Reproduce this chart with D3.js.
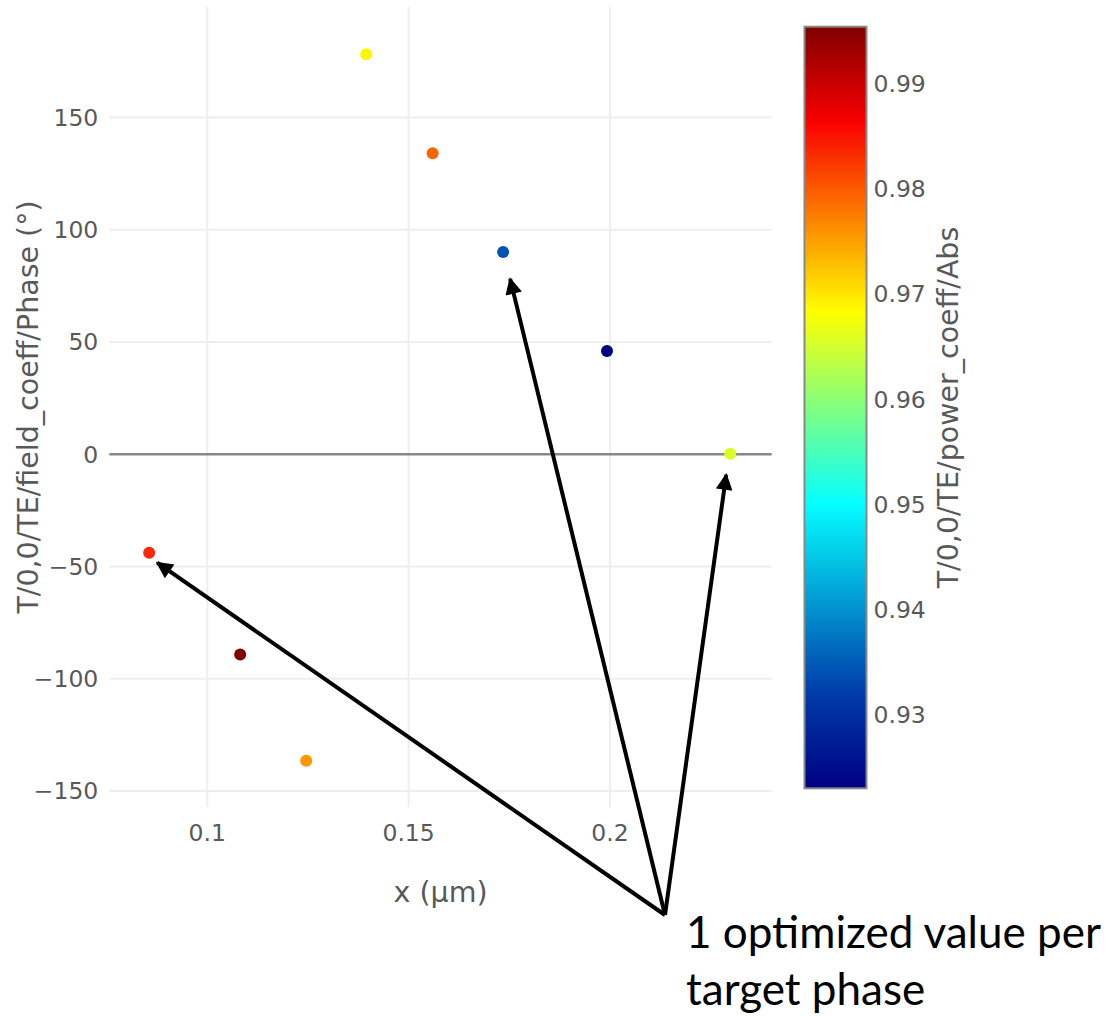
<!DOCTYPE html>
<html><head><meta charset="utf-8">
<script src="https://cdn.jsdelivr.net/npm/d3@7"></script>
<style>body{margin:0;background:#fff}svg{display:block}</style>
</head><body>
<svg id="chart" width="1111" height="1016"></svg>
<script>
// ---- data ----
const xValues = [0.0857, 0.1083, 0.1247, 0.1396, 0.1561, 0.1736, 0.1994, 0.2300];
const phaseValues = [-44.1, -89.5, -136.8, 177.9, 133.8, 89.9, 45.7, 0.0];
const absValues = [0.9835, 0.9954, 0.9757, 0.9688, 0.9792, 0.9340, 0.9229, 0.9657];
const xTicks = [0.1, 0.15, 0.2];
const yTicks = [-150, -100, -50, 0, 50, 100, 150];
const cTicks = [0.93, 0.94, 0.95, 0.96, 0.97, 0.98, 0.99];
const jetStops = [0, 0.125, 0.375, 0.625, 0.875, 1];
const jetColors = ["rgb(0,0,131)", "rgb(0,60,170)", "rgb(5,255,255)", "rgb(255,255,0)", "rgb(250,0,0)", "rgb(128,0,0)"];
const annotationText = ["1 optimized value per", "target phase"];
const arrowTargetIdx = [0, 5, 7];

const svg = d3.select("#chart");
const L = 109.3, R = 771.7, T = 7, B = 807;
const x = d3.scaleLinear().domain([0.0758, 0.2403]).range([L, R]);
const y = d3.scaleLinear().domain([-157.4, 199.0]).range([B, T]);
const cMin = d3.min(absValues), cMax = d3.max(absValues);
const cNorm = d3.scaleLinear().domain([cMin, cMax]).range([0, 1]);
const jet = d3.scaleLinear().domain(jetStops).range(jetColors).interpolate(d3.interpolateRgb).clamp(true);
const color = v => jet(cNorm(v));

const tickColor = "#595959";
const font = "'DejaVu Sans', Verdana, sans-serif";
const tickSize = 23.5, titleSize = 28.5;

// gridlines + axes
const g = svg.append("g");
g.append("g").attr("transform", `translate(0,${B})`)
  .call(d3.axisBottom(x).tickValues(xTicks).tickSize(-(B - T)).tickFormat(d3.format("")))
  .call(s => s.select(".domain").remove())
  .call(s => s.selectAll("line").attr("stroke", "#eee").attr("stroke-width", 2))
  .call(s => s.selectAll("text").attr("fill", tickColor).attr("font-size", tickSize).attr("font-family", font).attr("y", 26).attr("dy", "0.36em"));
g.append("g").attr("transform", `translate(${L},0)`)
  .call(d3.axisLeft(y).tickValues(yTicks).tickSize(-(R - L)).tickFormat(d => d < 0 ? "\u2212" + Math.abs(d) : d))
  .call(s => s.select(".domain").remove())
  .call(s => s.selectAll("line").attr("stroke", d => d === 0 ? "#888" : "#eee").attr("stroke-width", d => d === 0 ? 2.5 : 2))
  .call(s => s.selectAll("text").attr("fill", tickColor).attr("font-size", tickSize).attr("font-family", font).attr("x", -11).attr("dy", "0.36em"));

// axis titles
svg.append("text").attr("x", (L + R) / 2).attr("y", 902).attr("text-anchor", "middle")
  .attr("fill", tickColor).attr("font-size", titleSize).attr("font-family", font).text("x (\u03bcm)");
svg.append("text").attr("transform", `translate(38,${(T + B) / 2}) rotate(-90)`).attr("text-anchor", "middle")
  .attr("fill", tickColor).attr("font-size", titleSize).attr("font-family", font).text("T/0,0/TE/field_coeff/Phase (\u00b0)");

// points
svg.append("g").selectAll("circle").data(xValues.map((d, i) => i)).join("circle")
  .attr("cx", i => x(xValues[i])).attr("cy", i => y(phaseValues[i])).attr("r", 6)
  .attr("fill", i => color(absValues[i]));

// colorbar
const cbL = 804.5, cbW = 62, cbT = 26.7, cbB = 788.3;
const cy = d3.scaleLinear().domain([cMin, cMax]).range([cbB, cbT]);
const defs = svg.append("defs");
const grad = defs.append("linearGradient").attr("id", "jet").attr("x1", 0).attr("y1", 1).attr("x2", 0).attr("y2", 0);
jetStops.forEach((s, i) => grad.append("stop").attr("offset", s).attr("stop-color", jetColors[i]));
svg.append("rect").attr("x", cbL).attr("y", cbT).attr("width", cbW).attr("height", cbB - cbT)
  .attr("fill", "url(#jet)").attr("stroke", "#888").attr("stroke-width", 2);
svg.append("g").attr("transform", `translate(${cbL + cbW},0)`)
  .call(d3.axisRight(cy).tickValues(cTicks).tickSize(0).tickFormat(d3.format(".2f")))
  .call(s => s.select(".domain").remove())
  .call(s => s.selectAll("text").attr("fill", tickColor).attr("font-size", tickSize).attr("font-family", font).attr("x", 7).attr("dy", "0.36em"));
svg.append("text").attr("transform", `translate(958,${(cbT + cbB) / 2}) rotate(-90)`).attr("text-anchor", "middle")
  .attr("fill", tickColor).attr("font-size", titleSize).attr("font-family", font).text("T/0,0/TE/power_coeff/Abs");

// annotation arrows
defs.append("marker").attr("id", "ah").attr("viewBox", "0 0 10 10").attr("refX", 9).attr("refY", 5)
  .attr("markerWidth", 4.8).attr("markerHeight", 4.2).attr("orient", "auto").attr("markerUnits", "strokeWidth")
  .append("path").attr("d", "M0,0 L10,5 L0,10 Z").attr("fill", "#000");
const origin = [665, 915];
const tipOffset = [[8, 10], [7, 27], [-4, 21]];
arrowTargetIdx.forEach((idx, k) => {
  svg.append("line").attr("x1", origin[0]).attr("y1", origin[1])
    .attr("x2", x(xValues[idx]) + tipOffset[k][0]).attr("y2", y(phaseValues[idx]) + tipOffset[k][1])
    .attr("stroke", "#000").attr("stroke-width", 4).attr("marker-end", "url(#ah)");
});
annotationText.forEach((t, i) => {
  svg.append("text").attr("x", 686).attr("y", 948 + i * 57).attr("fill", "#000")
    .attr("font-size", 44).attr("font-family", "Lato, 'Noto Sans', sans-serif").text(t);
});
</script>
</body></html>
